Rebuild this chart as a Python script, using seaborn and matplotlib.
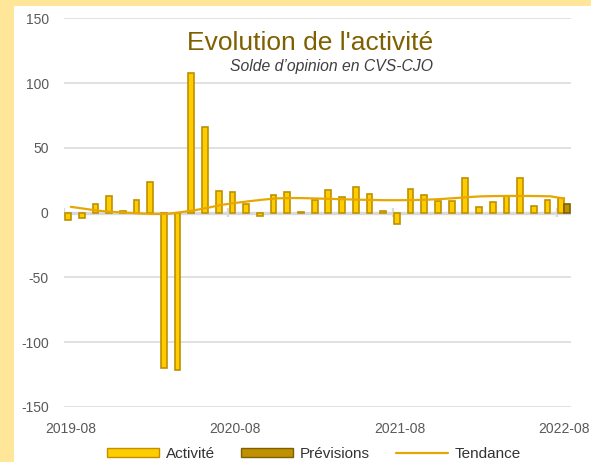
import numpy as np
import pandas as pd
import matplotlib
matplotlib.use("Agg")
import matplotlib.pyplot as plt
from matplotlib.patches import Rectangle, Patch
from matplotlib.lines import Line2D
import seaborn as sns

# Monthly survey balance (seasonally adjusted), 2019-08 to 2022-08
mois = pd.period_range("2019-08", "2022-08", freq="M").strftime("%Y-%m").tolist()

activite = [-5.5, -4.5, 7, 12.5, 1.2, 10, 23.5, -120, -121.5, 107.4, 65.8, 17,
            16, 7, -2.5, 13.5, 16, 0.5, 10, 17.5, 12, 19.5, 14.5, 1.2,
            -9, 18, 13.5, 9, 9, 26.5, 4.5, 8, 13, 26.5, 5.5, 9.5, 11]

# Forecast only for the last month
prevision_mois = ["2022-08"]
previsions = [6.5]

tendance = [4.5, 3.0, 1.5, 0.6, 0.0, -0.6, -1.0, -1.0, 0.3, 1.8, 3.8, 6.0,
            7.5, 8.8, 10.0, 11.0, 11.3, 11.2, 10.9, 10.6, 10.3, 10.0, 9.8, 9.6,
            9.6, 9.7, 10.0, 10.5, 11.2, 12.0, 12.6, 12.8, 12.9, 12.9, 12.8, 12.6, 10.9]

x_labels_shown = ["2019-08", "2020-08", "2021-08", "2022-08"]

# Colours
JAUNE = "#FFCC00"
JAUNE_BORD = "#BF9000"
OR_FONCE = "#BF9000"
OR_FONCE_BORD = "#7F6000"
TENDANCE_COUL = "#E6A800"
GRILLE = "#D9D9D9"
CADRE = "#FFE699"

sns.set_theme(style="white")
plt.rcParams["font.family"] = ["Liberation Sans", "DejaVu Sans"]
plt.rcParams["axes.unicode_minus"] = False

fig = plt.figure(figsize=(5.91, 4.62), dpi=100)
fig.patch.set_facecolor(CADRE)
fig.patches.append(Rectangle((14 / 591, 0), 1 - 14 / 591, 1 - 6 / 462,
                             transform=fig.transFigure, facecolor="white",
                             edgecolor="none", zorder=-10))

ax = fig.add_axes([64 / 591, 1 - 407 / 462, (571 - 64) / 591, (407 - 18.3) / 462])
ax.set_zorder(1)
ax.set_facecolor("none")

df = pd.concat([
    pd.DataFrame({"mois": mois, "valeur": activite, "serie": "Activité"}),
    pd.DataFrame({"mois": prevision_mois, "valeur": previsions, "serie": "Prévisions"}),
], ignore_index=True)

sns.barplot(data=df, x="mois", y="valeur", hue="serie", order=mois,
            hue_order=["Activité", "Prévisions"],
            palette={"Activité": JAUNE, "Prévisions": OR_FONCE},
            saturation=1, dodge=True, width=0.84, legend=False, errorbar=None,
            ax=ax, zorder=3)

for cont, bord in zip(ax.containers, [JAUNE_BORD, OR_FONCE_BORD]):
    for p in cont:
        p.set_edgecolor(bord)
        p.set_linewidth(1.2)

sns.lineplot(x=np.arange(len(mois)), y=tendance, color=TENDANCE_COUL,
             linewidth=1.6, ax=ax, zorder=4)

ax.set_ylim(-150, 150)
ax.set_xlim(-0.5, len(mois) - 0.5)
ax.set_yticks(np.arange(-150, 151, 50))
ax.yaxis.grid(True, color=GRILLE, linewidth=1.1, zorder=0)
ax.set_axisbelow(True)
ax.axhline(0, color=GRILLE, linewidth=2.4, zorder=2)

# Major tick marks on the zero axis, every 12 months
for b in np.arange(-0.5, len(mois), 12):
    ax.plot([b, b], [-3.5, 3.5], color=GRILLE, linewidth=1.6, zorder=2,
            solid_capstyle="butt")

ax.set_xticks([mois.index(m) for m in x_labels_shown])
ax.set_xticklabels(x_labels_shown)
ax.tick_params(axis="x", length=0, pad=11, labelsize=10, colors="#595959")
ax.tick_params(axis="y", length=0, pad=11, labelsize=10, colors="#595959")
ax.set_xlabel("")
ax.set_ylabel("")
for s in ax.spines.values():
    s.set_visible(False)

fig.text(310 / 591, 1 - 50 / 462, "Evolution de l'activité", ha="center",
         va="baseline", fontsize=19, color="#7F6000", zorder=5)
fig.text(433 / 591, 1 - 71.5 / 462, "Solde d\u2019opinion en CVS-CJO", ha="right",
         va="baseline", fontsize=11.3, style="italic", color="#404040", zorder=5)

handles = [
    Patch(facecolor=JAUNE, edgecolor=JAUNE_BORD, linewidth=1.0),
    Patch(facecolor=OR_FONCE, edgecolor=OR_FONCE_BORD, linewidth=1.0),
    Line2D([], [], color=TENDANCE_COUL, linewidth=1.6),
]
fig.legend(handles, ["Activité", "Prévisions", "Tendance"], loc="center",
           bbox_to_anchor=(314 / 591, 1 - 454 / 462), ncol=3, frameon=False,
           fontsize=11, handlelength=3.4, handleheight=0.45, handletextpad=0.45,
           columnspacing=1.7, labelcolor="#333333")

fig.savefig("out.png", dpi=100, facecolor=fig.get_facecolor())
